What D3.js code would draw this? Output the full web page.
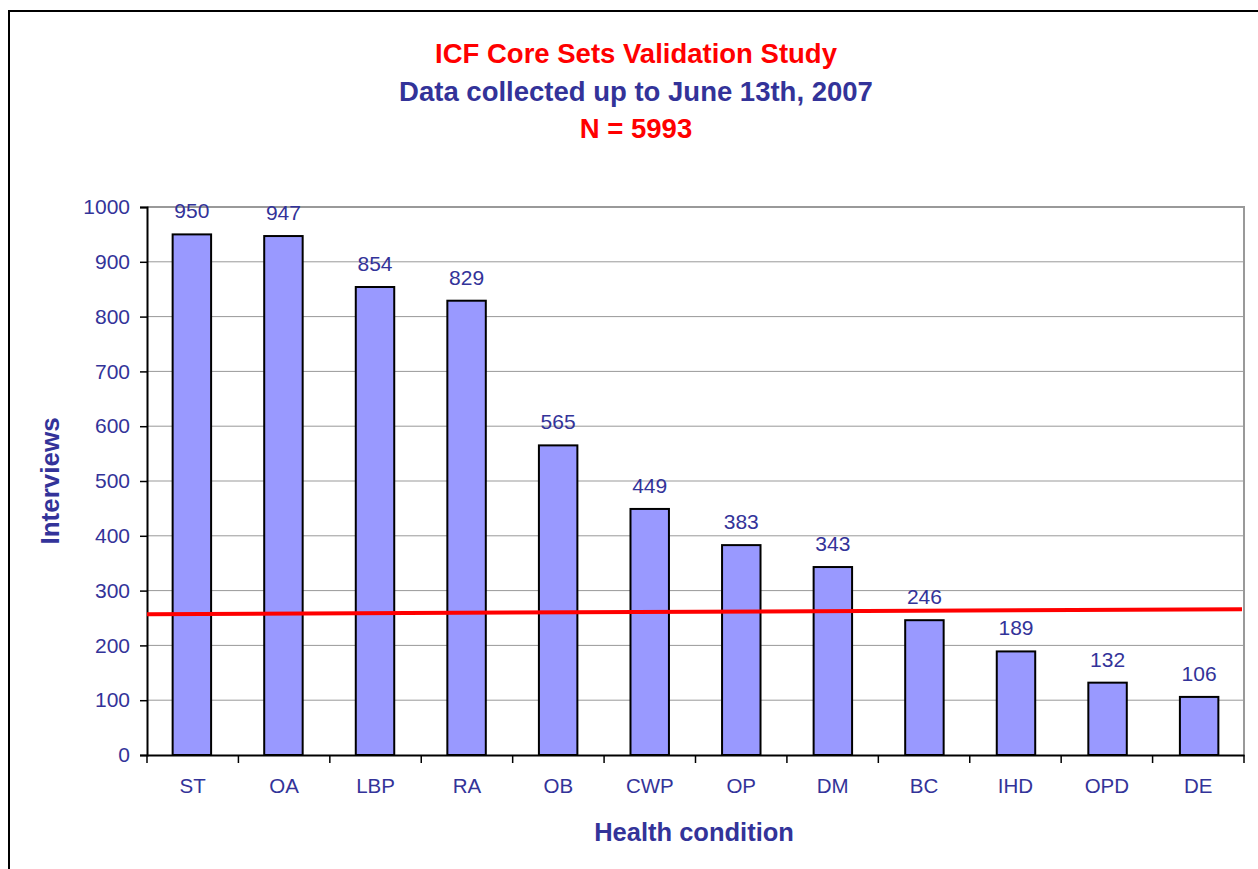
<!DOCTYPE html>
<html>
<head>
<meta charset="utf-8">
<script src="https://cdn.jsdelivr.net/npm/d3@7"></script>
<style>
  html, body { margin: 0; padding: 0; background: #fff; }
  svg { display: block; font-family: Arial, "Liberation Sans", sans-serif; }
</style>
</head>
<body>
<svg id="chart" width="1258" height="869"></svg>
<script>
const categories = ["ST", "OA", "LBP", "RA", "OB", "CWP", "OP", "DM", "BC", "IHD", "OPD", "DE"];
const interviews = [950, 947, 854, 829, 565, 449, 383, 343, 246, 189, 132, 106];
const yTicks = [0, 100, 200, 300, 400, 500, 600, 700, 800, 900, 1000];
const redLine = [257, 266]; // value at left edge, value at right edge
const titleLines = [
  { text: "ICF Core Sets Validation Study", color: "#ff0000" },
  { text: "Data collected up to June 13th, 2007", color: "#333399" },
  { text: "N = 5993", color: "#ff0000" }
];

const svg = d3.select("#chart");
const textColor = "#333399";
const font = "Arial, 'Liberation Sans', sans-serif";

// outer frame
svg.append("rect").attr("x", 9).attr("y", 11).attr("width", 1260).attr("height", 880)
  .attr("fill", "none").attr("stroke", "#000").attr("stroke-width", 2);

const m = { left: 147, right: 1244, top: 207, bottom: 755 };
const x = d3.scaleBand().domain(categories).range([m.left, m.right]).paddingInner(0.58).paddingOuter(0.28);
const xb = d3.scaleBand().domain(categories).range([m.left, m.right]);
const y = d3.scaleLinear().domain([0, 1000]).range([m.bottom, m.top]);

// gridlines
svg.append("g").selectAll("line").data(yTicks.filter(d => d > 0)).join("line")
  .attr("x1", m.left).attr("x2", m.right)
  .attr("y1", d => y(d)).attr("y2", d => y(d))
  .attr("stroke", "#999").attr("stroke-width", 1);

// plot border right/top
svg.append("path")
  .attr("d", `M${m.left},${m.top}H${m.right}V${m.bottom}`)
  .attr("fill", "none").attr("stroke", "#999").attr("stroke-width", 2);

// bars
svg.append("g").selectAll("rect").data(categories).join("rect")
  .attr("x", d => x(d)).attr("width", x.bandwidth())
  .attr("y", (d, i) => y(interviews[i]))
  .attr("height", (d, i) => y(0) - y(interviews[i]))
  .attr("fill", "#9999ff").attr("stroke", "#000").attr("stroke-width", 2);

// data labels
svg.append("g").selectAll("text").data(categories).join("text")
  .attr("x", d => x(d) + x.bandwidth() / 2)
  .attr("y", (d, i) => y(interviews[i]) - 16)
  .attr("text-anchor", "middle").attr("font-size", 21).attr("fill", textColor)
  .text((d, i) => interviews[i]);

// y axis
const yAxis = svg.append("g").attr("transform", `translate(${m.left},0)`)
  .call(d3.axisLeft(y).tickValues(yTicks).tickSize(7).tickPadding(10).tickFormat(d3.format("d")));
yAxis.select(".domain").attr("stroke", "#000").attr("stroke-width", 2);
yAxis.selectAll(".tick line").attr("stroke", "#000").attr("stroke-width", 1.5);
yAxis.selectAll("text").attr("font-size", 21).attr("fill", textColor).attr("font-family", font);

// x axis
const xAxis = svg.append("g").attr("transform", `translate(0,${m.bottom})`)
  .call(d3.axisBottom(xb).tickSize(0).tickPadding(23));
xAxis.select(".domain").attr("stroke", "#000").attr("stroke-width", 2);
xAxis.selectAll("text").attr("font-size", 20.5).attr("fill", textColor).attr("font-family", font);
// category boundary ticks
svg.append("g").selectAll("line").data(categories.concat(["_end"])).join("line")
  .attr("x1", (d, i) => i < categories.length ? xb(d) : m.right)
  .attr("x2", (d, i) => i < categories.length ? xb(d) : m.right)
  .attr("y1", m.bottom).attr("y2", m.bottom + 8)
  .attr("stroke", "#000").attr("stroke-width", 1.5);

// red reference line
const xl = d3.scaleLinear().domain([0, 1]).range([m.left, 1242]);
svg.append("line")
  .attr("x1", xl(0)).attr("x2", xl(1))
  .attr("y1", y(redLine[0])).attr("y2", y(redLine[1]))
  .attr("stroke", "#ff0000").attr("stroke-width", 4);

// titles
svg.append("g").selectAll("text").data(titleLines).join("text")
  .attr("x", 636).attr("y", (d, i) => 63 + i * 37.5)
  .attr("text-anchor", "middle").attr("font-size", 27.5).attr("font-weight", "bold")
  .attr("fill", d => d.color).text(d => d.text);

// axis titles
svg.append("text").attr("transform", "translate(59,481) rotate(-90)")
  .attr("text-anchor", "middle").attr("font-size", 26).attr("font-weight", "bold")
  .attr("fill", textColor).text("Interviews");
svg.append("text").attr("x", 694).attr("y", 841)
  .attr("text-anchor", "middle").attr("font-size", 25.5).attr("font-weight", "bold")
  .attr("fill", textColor).text("Health condition");
</script>
</body>
</html>
